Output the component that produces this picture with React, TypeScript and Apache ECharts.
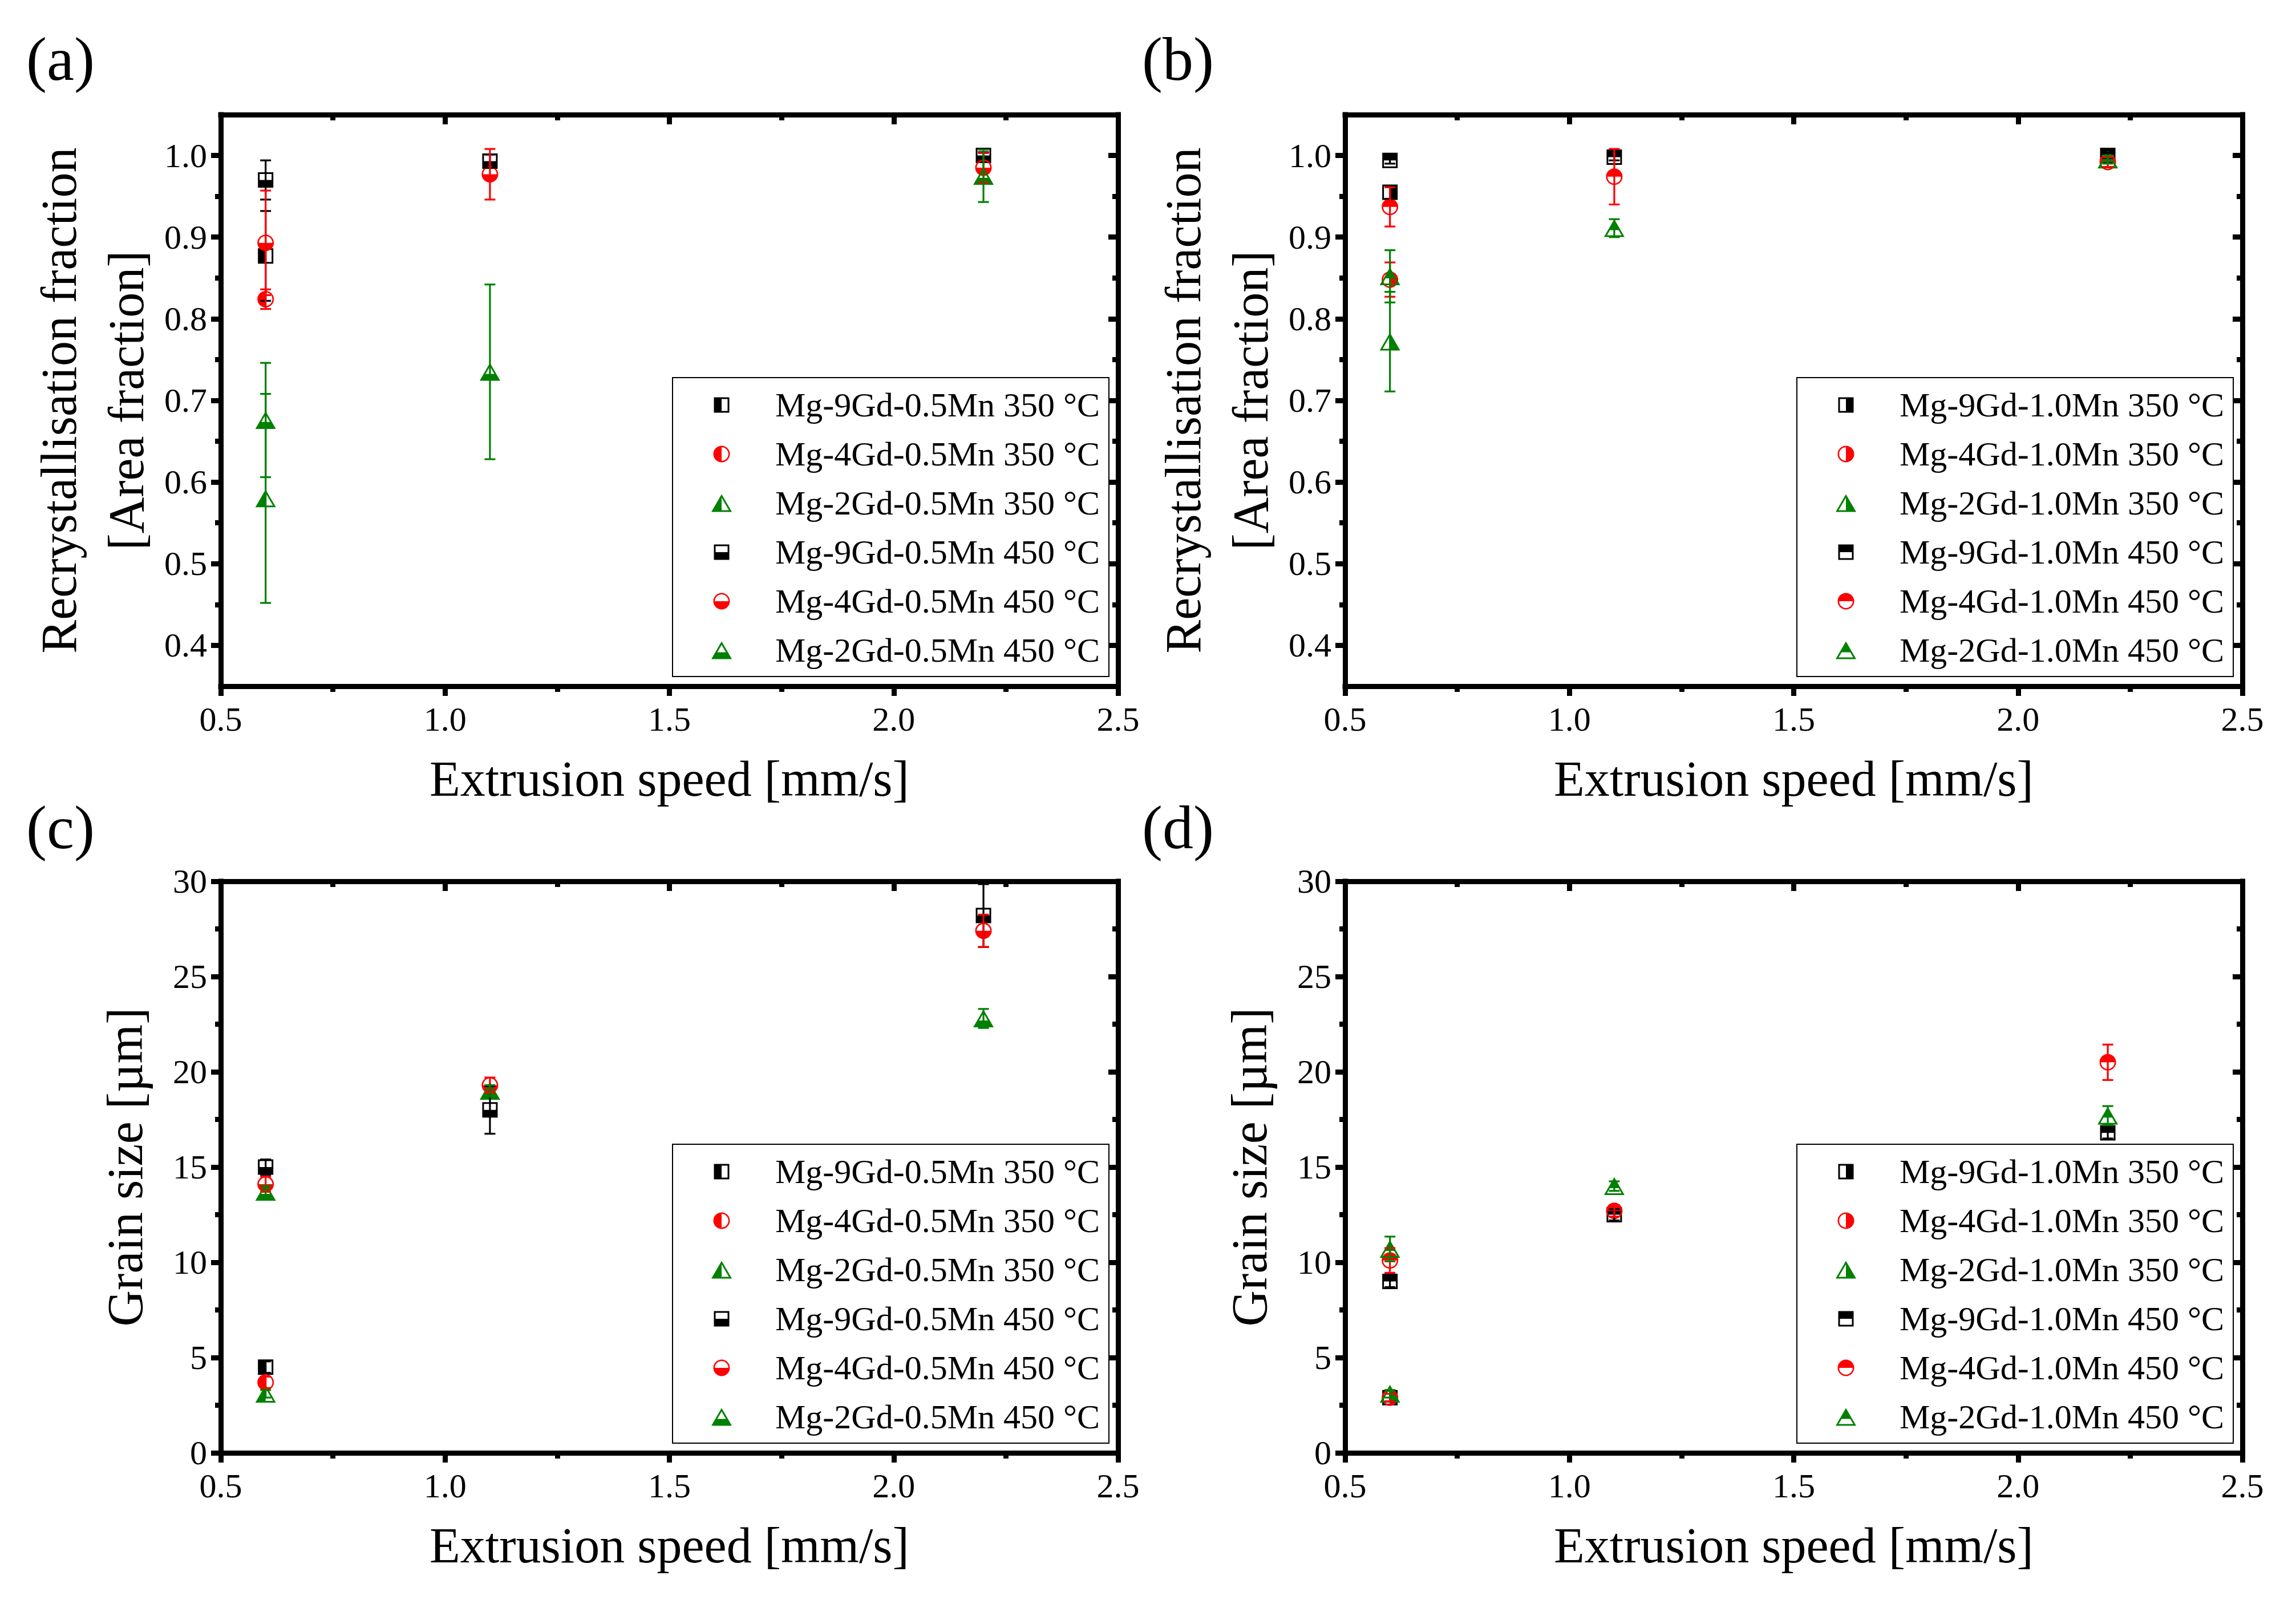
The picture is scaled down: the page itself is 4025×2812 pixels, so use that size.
import { useEffect, useRef } from 'react'
import * as echarts from 'echarts'

// ── Data: [extrusion speed mm/s, value, error] ───────────────────────────────
// (a) Mg-xGd-0.5Mn, recrystallisation fraction
const A_9GD_350 = [[0.6, 0.877, 0.055]]
const A_4GD_350 = [[0.6, 0.824, 0.012]]
const A_2GD_350 = [[0.6, 0.58, 0.128]]
const A_9GD_450 = [[0.6, 0.97, 0.024], [1.1, 0.993, 0.008], [2.2, 1.0, 0.004]]
const A_4GD_450 = [[0.6, 0.893, 0.064], [1.1, 0.977, 0.031], [2.2, 0.985, 0.018]]
const A_2GD_450 = [[0.6, 0.676, 0.07], [1.1, 0.735, 0.107], [2.2, 0.975, 0.032]]

// (b) Mg-xGd-1.0Mn, recrystallisation fraction
const B_9GD_350 = [[0.6, 0.955, 0.008]]
const B_4GD_350 = [[0.6, 0.848, 0.021]]
const B_2GD_350 = [[0.6, 0.772, 0.061]]
const B_9GD_450 = [[0.6, 0.994, 0.004], [1.1, 0.998, 0.004], [2.2, 1.0, 0.003]]
const B_4GD_450 = [[0.6, 0.937, 0.024], [1.1, 0.974, 0.034], [2.2, 0.992, 0.006]]
const B_2GD_450 = [[0.6, 0.852, 0.032], [1.1, 0.911, 0.011], [2.2, 0.995, 0.005]]

// (c) Mg-xGd-0.5Mn, grain size (µm)
const C_9GD_350 = [[0.6, 4.5, 0.3]]
const C_4GD_350 = [[0.6, 3.7, 0.3]]
const C_2GD_350 = [[0.6, 3.1, 0.2]]
const C_9GD_450 = [[0.6, 15.0, 0.4], [1.1, 18.0, 1.25], [2.2, 28.2, 1.65]]
const C_4GD_450 = [[0.6, 14.1, 0.4], [1.1, 19.3, 0.4], [2.2, 27.4, 0.85]]
const C_2GD_450 = [[0.6, 13.7, 0.3], [1.1, 19.0, 0.3], [2.2, 22.8, 0.5]]

// (d) Mg-xGd-1.0Mn, grain size (µm)
const D_9GD_350 = [[0.6, 2.9, 0.2]]
const D_4GD_350 = [[0.6, 2.9, 0.2]]
const D_2GD_350 = [[0.6, 3.1, 0.2]]
const D_9GD_450 = [[0.6, 9.0, 0.3], [1.1, 12.5, 0.3], [2.2, 16.8, 0.3]]
const D_4GD_450 = [[0.6, 10.1, 0.65], [1.1, 12.7, 0.3], [2.2, 20.5, 0.93]]
const D_2GD_450 = [[0.6, 10.7, 0.65], [1.1, 14.0, 0.25], [2.2, 17.7, 0.5]]

const ALLOYS = ['Mg-9Gd', 'Mg-4Gd', 'Mg-2Gd']
const MN = ['0.5Mn', '1.0Mn']
const TEMPS = ['350 °C', '450 °C']
const PANEL_LABELS = ['(a)', '(b)', '(c)', '(d)']
const X_TICKS = [0.5, 1.0, 1.5, 2.0, 2.5]
const Y_TICKS_REX = [0.4, 0.5, 0.6, 0.7, 0.8, 0.9, 1.0]
const Y_TICKS_GRAIN = [0, 5, 10, 15, 20, 25, 30]

const PANEL_DATA = [
  [A_9GD_350, A_4GD_350, A_2GD_350, A_9GD_450, A_4GD_450, A_2GD_450],
  [B_9GD_350, B_4GD_350, B_2GD_350, B_9GD_450, B_4GD_450, B_2GD_450],
  [C_9GD_350, C_4GD_350, C_2GD_350, C_9GD_450, C_4GD_450, C_2GD_450],
  [D_9GD_350, D_4GD_350, D_2GD_350, D_9GD_450, D_4GD_450, D_2GD_450],
]

// ── Layout (px in the 4025 x 2812 page) ───────────────────────────────────────
const FONT = '"Liberation Serif", "Times New Roman", serif'
const GRID_LEFT = [387, 2358, 387, 2358]
const GRID_TOP = [201, 201, 1545, 1545]
const GRID_W = 1573
const GRID_H = 1002
const COLORS = ['#000000', '#ff0000', '#008000']
// Origin style half-filled symbols: (a)/(c) left / bottom, (b)/(d) right / top
const HALVES = [['left', 'bottom'], ['right', 'top'], ['left', 'bottom'], ['right', 'top']]

// ── Symbol paths (outline ring + half fill, nonzero winding) ─────────────────
const f2 = (n: number) => n.toFixed(2)
const PAD = 'M-18 -18L-18 -18M18 18L18 18'

function squarePath(half: string) {
  const s = 13.5, i = 10.5
  const ring = `M${-s} ${-s}L${s} ${-s}L${s} ${s}L${-s} ${s}ZM${-i} ${-i}L${-i} ${i}L${i} ${i}L${i} ${-i}Z`
  const fill: Record<string, string> = {
    left: `M${-i} ${-i}L0 ${-i}L0 ${i}L${-i} ${i}Z`,
    right: `M0 ${-i}L${i} ${-i}L${i} ${i}L0 ${i}Z`,
    bottom: `M${-i} 0L${i} 0L${i} ${i}L${-i} ${i}Z`,
    top: `M${-i} ${-i}L${i} ${-i}L${i} 0L${-i} 0Z`,
  }
  return 'path://' + PAD + ring + fill[half]
}

function circlePath(half: string) {
  const R = 14.5, r = 11.9
  const K = 0.5523
  const cw = (q: number) => {
    const k = f2(K * q), a = f2(q), n = f2(-q), nk = f2(-K * q)
    return `M${n} 0C${n} ${nk} ${nk} ${n} 0 ${n}C${k} ${n} ${a} ${nk} ${a} 0C${a} ${k} ${k} ${a} 0 ${a}C${nk} ${a} ${n} ${k} ${n} 0Z`
  }
  const ccw = (q: number) => {
    const k = f2(K * q), a = f2(q), n = f2(-q), nk = f2(-K * q)
    return `M${n} 0C${n} ${k} ${nk} ${a} 0 ${a}C${k} ${a} ${a} ${k} ${a} 0C${a} ${nk} ${k} ${n} 0 ${n}C${nk} ${n} ${n} ${nk} ${n} 0Z`
  }
  const k = f2(K * r), a = f2(r), n = f2(-r), nk = f2(-K * r)
  const fill: Record<string, string> = {
    left: `M0 ${a}C${nk} ${a} ${n} ${k} ${n} 0C${n} ${nk} ${nk} ${n} 0 ${n}Z`,
    right: `M0 ${n}C${k} ${n} ${a} ${nk} ${a} 0C${a} ${k} ${k} ${a} 0 ${a}Z`,
    bottom: `M${a} 0C${a} ${k} ${k} ${a} 0 ${a}C${nk} ${a} ${n} ${k} ${n} 0Z`,
    top: `M${n} 0C${n} ${nk} ${nk} ${n} 0 ${n}C${k} ${n} ${a} ${nk} ${a} 0Z`,
  }
  return 'path://' + PAD + cw(R) + ccw(r) + fill[half]
}

function trianglePath(half: string) {
  const hw = 18, hh = 15.6, t = 3
  const inr = (2 * hw) / (2 * Math.sqrt(3))
  const cy = hh - inr
  const f = (inr - t) / inr
  const ay = cy + (-hh - cy) * f
  const by = cy + (hh - cy) * f
  const hb = hw * f
  // Origin splits the triangle a little below its mid-height
  const sy = 3.5
  const hs = (hb * (sy - ay)) / (by - ay)
  const ring = `M0 ${-hh}L${hw} ${hh}L${-hw} ${hh}ZM0 ${f2(ay)}L${f2(-hb)} ${f2(by)}L${f2(hb)} ${f2(by)}Z`
  const fill: Record<string, string> = {
    left: `M0 ${f2(ay)}L0 ${f2(by)}L${f2(-hb)} ${f2(by)}Z`,
    right: `M0 ${f2(ay)}L${f2(hb)} ${f2(by)}L0 ${f2(by)}Z`,
    bottom: `M${f2(-hs)} ${sy}L${f2(hs)} ${sy}L${f2(hb)} ${f2(by)}L${f2(-hb)} ${f2(by)}Z`,
    top: `M0 ${f2(ay)}L${f2(hs)} ${sy}L${f2(-hs)} ${sy}Z`,
  }
  return 'path://' + PAD + ring + fill[half]
}

const SHAPES = [squarePath, circlePath, trianglePath]

const blackLine = { color: '#000', width: 9 }

export default function App() {
  const chartRef = useRef<HTMLDivElement>(null)

  useEffect(() => {
    if (!chartRef.current) return
    const chart = echarts.init(chartRef.current, undefined, { renderer: 'svg' })

    const grids: any[] = []
    const xAxes: any[] = []
    const yAxes: any[] = []
    const series: any[] = []
    const legends: any[] = []
    const graphics: any[] = []

    PANEL_DATA.forEach((panel, g) => {
      const isRex = g < 2
      grids.push({ left: GRID_LEFT[g], top: GRID_TOP[g], width: GRID_W, height: GRID_H })

      const xBase = {
        gridIndex: g,
        type: 'value',
        min: 0.5,
        max: 2.5,
        interval: 0.5,
        axisLine: { show: true, onZero: false, lineStyle: { ...blackLine, cap: 'square' } },
        axisTick: { show: true, length: 17, lineStyle: blackLine },
        minorTick: { show: true, splitNumber: 2, length: 10, lineStyle: blackLine },
        splitLine: { show: false },
      }
      xAxes.push({
        ...xBase,
        position: 'bottom',
        name: 'Extrusion speed [mm/s]',
        nameLocation: 'middle',
        nameGap: 118,
        nameTextStyle: { fontSize: 88, color: '#000', fontFamily: FONT },
        axisTick: { ...xBase.axisTick, inside: false },
        axisLabel: {
          fontSize: 60, margin: 28, color: '#000', fontFamily: FONT,
          customValues: X_TICKS,
          formatter: (v: number) => v.toFixed(1),
        },
      })
      xAxes.push({
        ...xBase,
        position: 'top',
        axisTick: { ...xBase.axisTick, inside: true },
        axisLabel: { show: false },
      })

      const yRange = isRex
        ? { min: 0.35, max: 1.05, splitNumber: 7 }
        : { min: 0, max: 30, interval: 5 }
      const yTicks = isRex ? Y_TICKS_REX : Y_TICKS_GRAIN
      const yBase = {
        gridIndex: g,
        type: 'value',
        ...yRange,
        axisLine: { show: true, onZero: false, lineStyle: { ...blackLine, cap: 'square' } },
        axisTick: { show: true, length: 17, lineStyle: blackLine, customValues: yTicks },
        minorTick: { show: true, splitNumber: 2, length: 10, lineStyle: blackLine },
        splitLine: { show: false },
      }
      yAxes.push({
        ...yBase,
        position: 'left',
        name: isRex ? 'Recrystallisation fraction\n[Area fraction]' : 'Grain size [µm]',
        nameLocation: 'middle',
        nameGap: isRex ? 107 : 109,
        nameTextStyle: { fontSize: 88, lineHeight: 118, color: '#000', fontFamily: FONT },
        axisTick: { ...yBase.axisTick, inside: false },
        axisLabel: {
          fontSize: 60, margin: 24, color: '#000', fontFamily: FONT,
          customValues: yTicks,
          formatter: (v: number) => (isRex ? v.toFixed(1) : String(Math.round(v))),
        },
      })
      yAxes.push({
        ...yBase,
        position: 'right',
        axisTick: { ...yBase.axisTick, inside: true },
        axisLabel: { show: false },
      })

      const names: any[] = []
      panel.forEach((pts, s) => {
        const alloy = s % 3
        const temp = s < 3 ? 0 : 1
        const name = `${ALLOYS[alloy]}-${MN[g % 2]} ${TEMPS[temp]}`
        const symbol = SHAPES[alloy](HALVES[g][temp])
        const color = COLORS[alloy]
        names.push({ name, icon: symbol })
        series.push({
          type: 'scatter',
          name,
          xAxisIndex: 2 * g,
          yAxisIndex: 2 * g,
          symbol,
          symbolSize: 36,
          itemStyle: { color, opacity: 1 },
          z: 2,
          data: pts.map(p => [p[0], p[1]]),
        })
        series.push({
          type: 'custom',
          name: `${name} error`,
          xAxisIndex: 2 * g,
          yAxisIndex: 2 * g,
          clip: true,
          silent: true,
          z: 3,
          encode: { x: 0, y: 1 },
          data: pts,
          renderItem: (_params: any, api: any) => {
            const x = api.value(0)
            const y = api.value(1)
            const e = api.value(2)
            const hi = api.coord([x, y + e])
            const lo = api.coord([x, y - e])
            const cap = 9.5
            const style = { stroke: color, lineWidth: 3.2 }
            return {
              type: 'group',
              children: [
                { type: 'line', shape: { x1: hi[0], y1: hi[1], x2: lo[0], y2: lo[1] }, style },
                { type: 'line', shape: { x1: hi[0] - cap, y1: hi[1], x2: hi[0] + cap, y2: hi[1] }, style },
                { type: 'line', shape: { x1: lo[0] - cap, y1: lo[1], x2: lo[0] + cap, y2: lo[1] }, style },
              ],
            }
          },
        })
      })

      legends.push({
        data: names,
        orient: 'vertical',
        align: 'left',
        left: GRID_LEFT[g] + 792,
        top: GRID_TOP[g] + 461,
        padding: [18, 16, 16, 68],
        itemWidth: 36,
        itemHeight: 36,
        itemGap: 26,
        selectedMode: false,
        borderColor: '#000',
        borderWidth: 2,
        backgroundColor: '#fff',
        textStyle: {
          fontSize: 60, lineHeight: 60, color: '#000', fontFamily: FONT,
          padding: [0, 0, 0, 71],
        },
      })

      graphics.push({
        type: 'text',
        x: g % 2 === 0 ? 46 : 2002,
        y: g < 2 ? 103 : 1450,
        style: {
          text: PANEL_LABELS[g],
          fontSize: 108,
          fontFamily: FONT,
          fill: '#000',
          verticalAlign: 'middle',
        },
      })
    })

    const option: any = {
      animation: false,
      backgroundColor: '#fff',
      textStyle: { fontFamily: FONT },
      grid: grids,
      xAxis: xAxes,
      yAxis: yAxes,
      legend: legends,
      graphic: graphics,
      series,
    }

    chart.setOption(option)
    return () => {
      chart.dispose()
    }
  }, [])

  return (
    <div
      ref={chartRef}
      style={{ position: 'absolute', left: 0, top: 0, width: 4025, height: 2812, background: '#fff' }}
    />
  )
}
